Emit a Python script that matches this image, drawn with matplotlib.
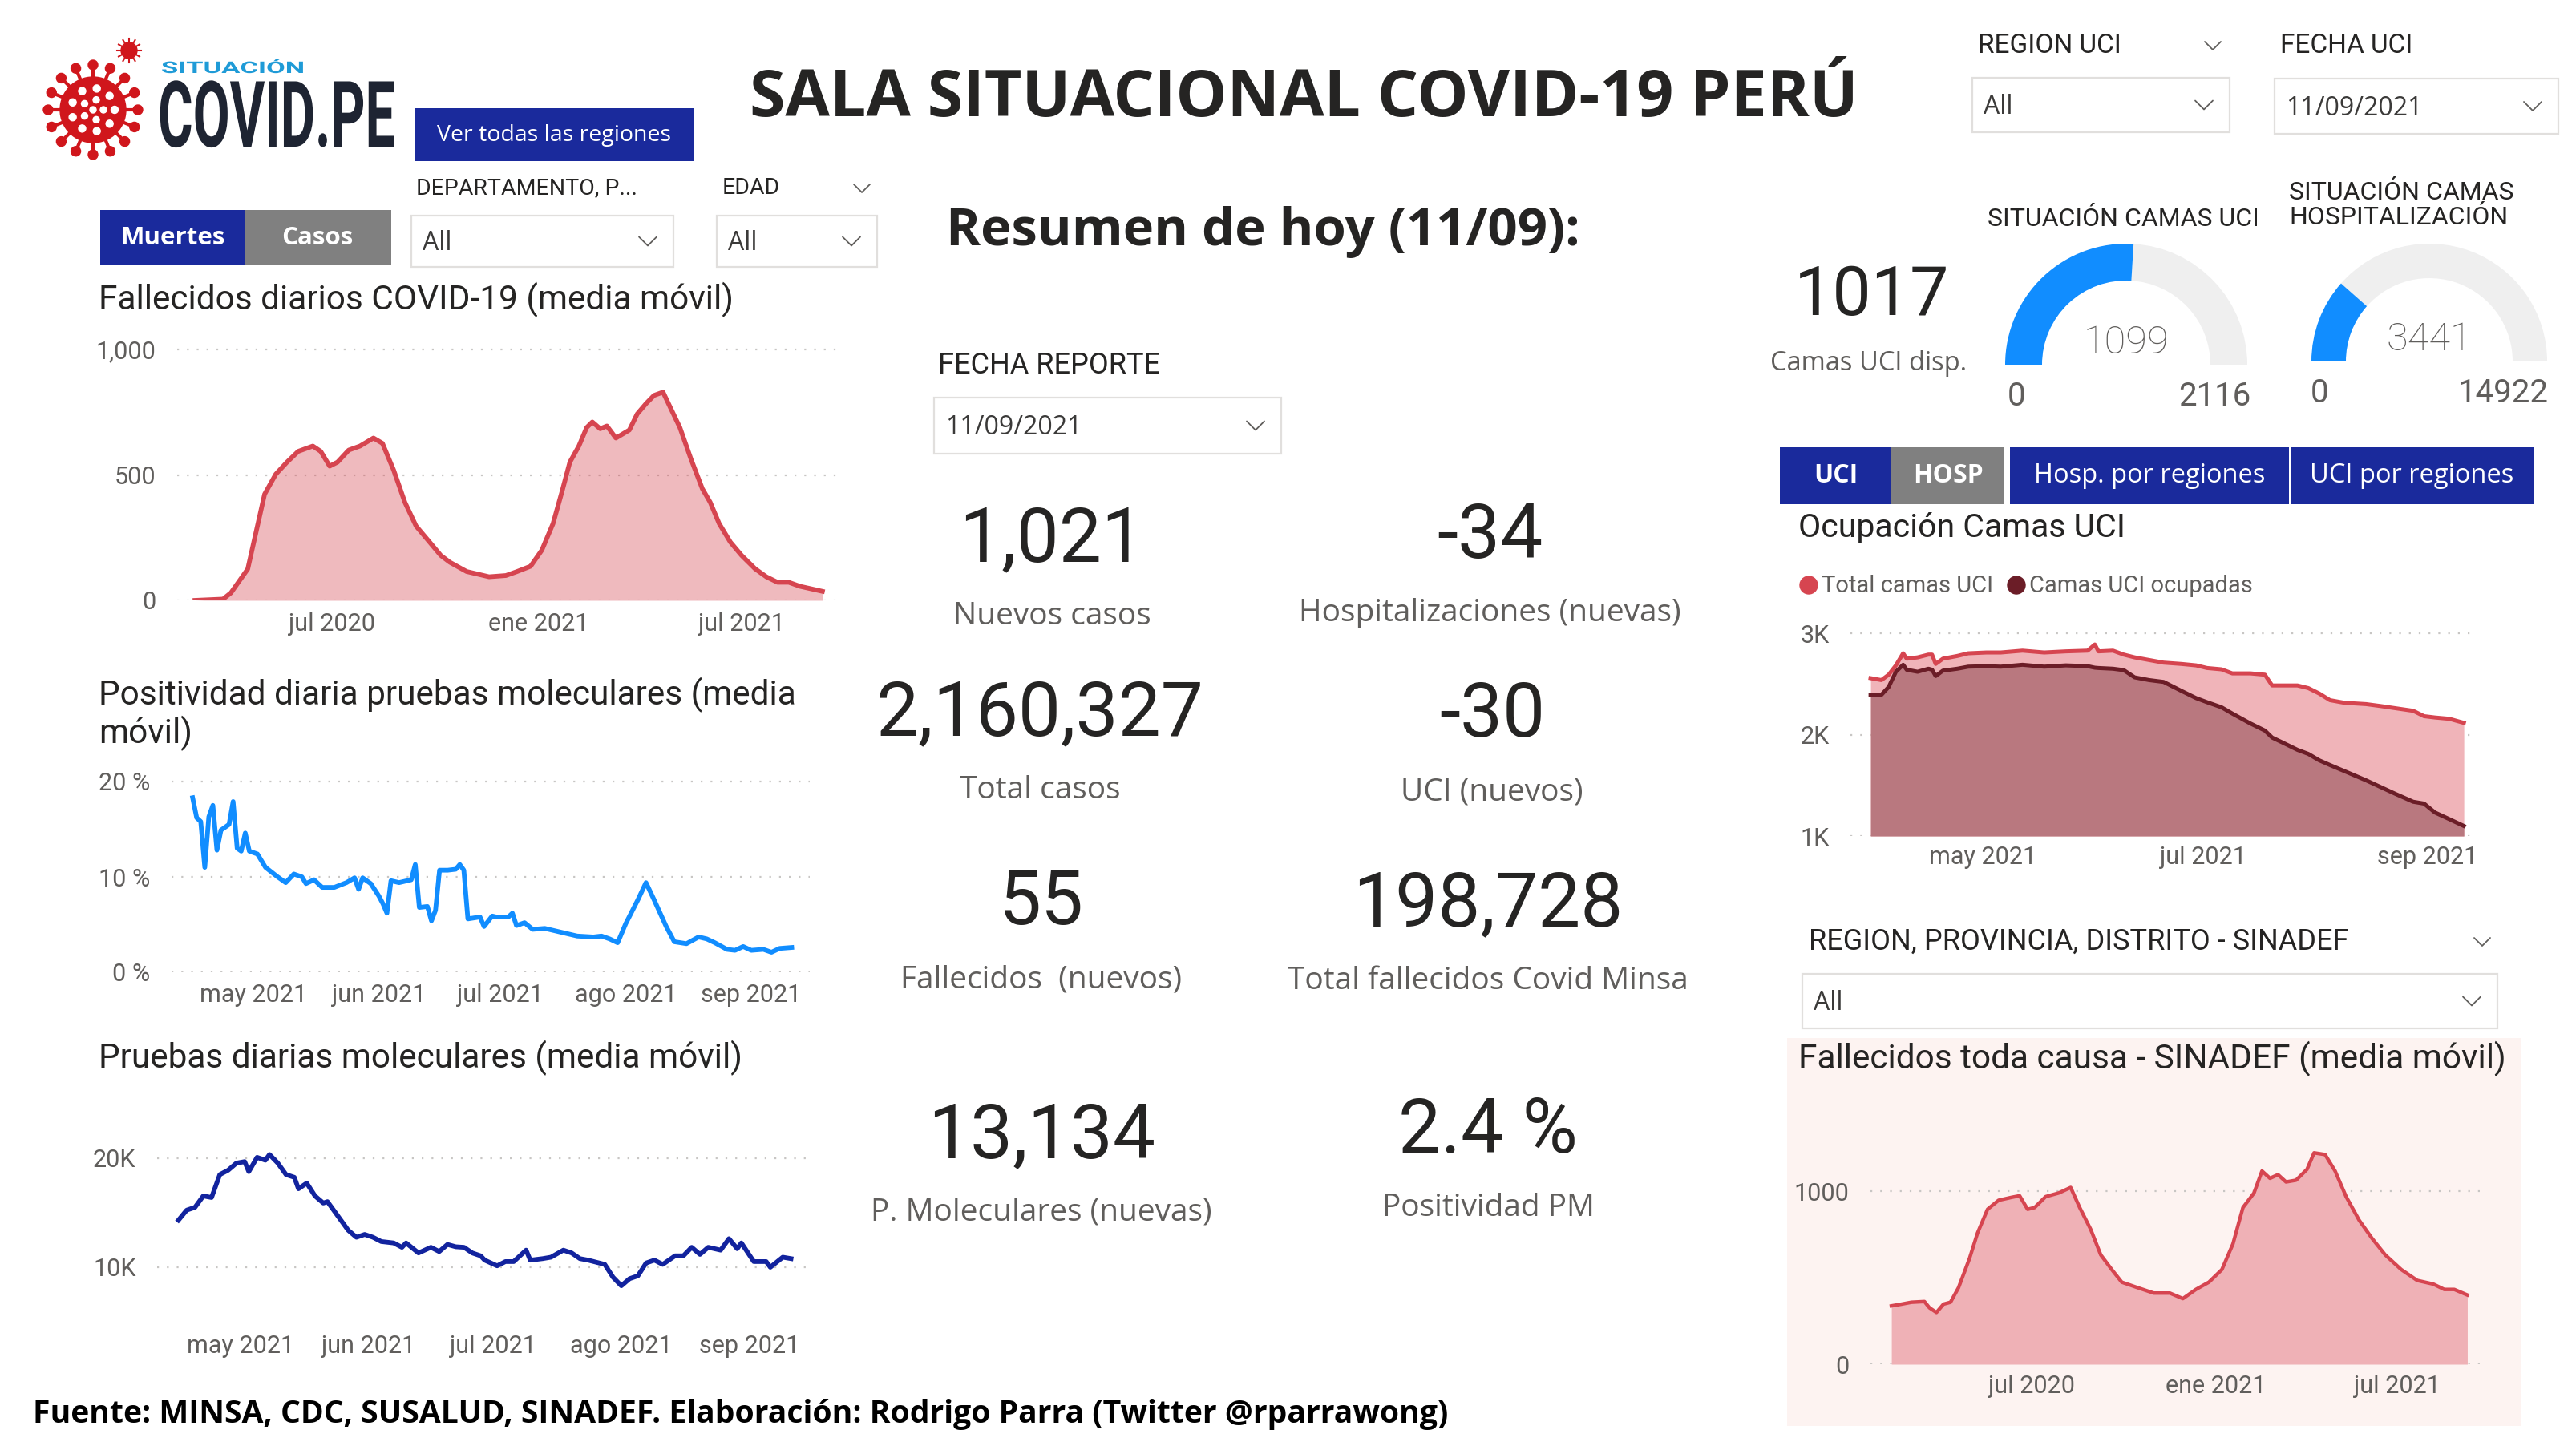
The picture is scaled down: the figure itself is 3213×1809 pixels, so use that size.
import numpy as np
import pandas as pd
import matplotlib
matplotlib.use('Agg')
import matplotlib.pyplot as plt
import matplotlib.dates as mdates
from matplotlib.patches import Rectangle, Circle, Wedge
from matplotlib.patheffects import AbstractPathEffect
from matplotlib.transforms import Affine2D
from matplotlib.ticker import FixedLocator

plt.rcParams['font.family'] = ['Roboto', 'DejaVu Sans']
SEGOE = ['Open Sans', 'DejaVu Sans']

# ---- Data ----
fallecidos_fechas = ['2020-03-01', '2020-03-26', '2020-04-02', '2020-04-17', '2020-05-02', '2020-05-12',
                     '2020-05-22', '2020-06-01', '2020-06-14', '2020-06-21', '2020-06-29', '2020-07-06',
                     '2020-07-16', '2020-07-26', '2020-08-07', '2020-08-15', '2020-08-25', '2020-09-04',
                     '2020-09-14', '2020-09-24', '2020-10-06', '2020-10-14', '2020-10-29', '2020-11-18',
                     '2020-12-03', '2020-12-13', '2020-12-25', '2021-01-04', '2021-01-14', '2021-01-22',
                     '2021-01-29', '2021-02-06', '2021-02-13', '2021-02-18', '2021-02-25', '2021-03-03',
                     '2021-03-11', '2021-03-23', '2021-03-30', '2021-04-07', '2021-04-14', '2021-04-22',
                     '2021-04-29', '2021-05-07', '2021-05-17', '2021-05-27', '2021-06-03', '2021-06-11',
                     '2021-06-21', '2021-07-01', '2021-07-13', '2021-07-23', '2021-08-02', '2021-08-12',
                     '2021-08-22', '2021-09-01', '2021-09-11']
fallecidos_media = [0, 5, 30, 125, 423, 503, 551, 594, 615, 594, 535, 551, 599, 615, 647, 626, 519, 391,
                    296, 243, 179, 152, 115, 94, 99, 115, 136, 200, 306, 434, 551, 615, 689, 711, 684, 695,
                    647, 679, 743, 785, 817, 830, 764, 689, 562, 445, 391, 306, 232, 179, 126, 94, 72, 72,
                    56, 46, 36]

positividad_fechas = ['2021-04-16', '2021-04-17', '2021-04-18', '2021-04-19', '2021-04-20', '2021-04-21',
                      '2021-04-22', '2021-04-23', '2021-04-25', '2021-04-26', '2021-04-27', '2021-04-28',
                      '2021-04-29', '2021-04-30', '2021-05-02', '2021-05-04', '2021-05-07', '2021-05-09',
                      '2021-05-11', '2021-05-13', '2021-05-14', '2021-05-16', '2021-05-18', '2021-05-21',
                      '2021-05-24', '2021-05-26', '2021-05-27', '2021-05-28', '2021-05-30', '2021-06-01',
                      '2021-06-02', '2021-06-03', '2021-06-04', '2021-06-06', '2021-06-09', '2021-06-10',
                      '2021-06-11', '2021-06-13', '2021-06-14', '2021-06-15', '2021-06-16', '2021-06-18',
                      '2021-06-20', '2021-06-21', '2021-06-22', '2021-06-23', '2021-06-26', '2021-06-27',
                      '2021-06-29', '2021-06-30', '2021-07-03', '2021-07-04', '2021-07-05', '2021-07-07',
                      '2021-07-09', '2021-07-12', '2021-07-16', '2021-07-20', '2021-07-24', '2021-07-26',
                      '2021-07-28', '2021-07-30', '2021-08-01', '2021-08-04', '2021-08-06', '2021-08-08',
                      '2021-08-11', '2021-08-13', '2021-08-16', '2021-08-19', '2021-08-21', '2021-08-23',
                      '2021-08-26', '2021-08-28', '2021-08-30', '2021-09-01', '2021-09-04', '2021-09-06',
                      '2021-09-08', '2021-09-11']
positividad_pct = [18.3, 16.2, 15.8, 11.0, 16.3, 17.5, 12.8, 14.9, 15.5, 17.9,
                   13.0, 12.7, 14.6, 12.7, 12.4, 11.0, 10.0, 9.4, 10.3, 10.0,
                   9.3, 9.7, 8.9, 8.9, 9.4, 9.9, 8.7, 9.9, 9.3, 8.0,
                   7.2, 6.2, 9.6, 9.4, 9.7, 11.3, 6.8, 6.9, 5.4, 6.5,
                   10.7, 10.7, 10.8, 11.3, 10.7, 5.6, 5.8, 4.8, 5.9, 5.8,
                   5.8, 6.2, 4.9, 5.2, 4.5, 4.6, 4.2, 3.8, 3.7, 3.8,
                   3.5, 3.1, 5.1, 7.6, 9.4, 7.6, 4.8, 3.2, 3.0, 3.7,
                   3.5, 3.1, 2.4, 2.3, 2.7, 2.3, 2.4, 2.1, 2.5, 2.6]

pruebas_fechas = ['2021-04-16', '2021-04-18', '2021-04-20', '2021-04-22', '2021-04-24', '2021-04-26',
                  '2021-04-28', '2021-04-30', '2021-05-02', '2021-05-03', '2021-05-05', '2021-05-07',
                  '2021-05-08', '2021-05-10', '2021-05-12', '2021-05-14', '2021-05-15', '2021-05-17',
                  '2021-05-19', '2021-05-21', '2021-05-22', '2021-05-25', '2021-05-27', '2021-05-29',
                  '2021-05-31', '2021-06-02', '2021-06-04', '2021-06-07', '2021-06-09', '2021-06-10',
                  '2021-06-13', '2021-06-16', '2021-06-18', '2021-06-20', '2021-06-22', '2021-06-24',
                  '2021-06-26', '2021-06-28', '2021-06-29', '2021-07-02', '2021-07-04', '2021-07-06',
                  '2021-07-09', '2021-07-10', '2021-07-13', '2021-07-15', '2021-07-18', '2021-07-20',
                  '2021-07-22', '2021-07-24', '2021-07-28', '2021-07-30', '2021-08-01', '2021-08-03',
                  '2021-08-05', '2021-08-07', '2021-08-09', '2021-08-11', '2021-08-14', '2021-08-16',
                  '2021-08-18', '2021-08-20', '2021-08-22', '2021-08-25', '2021-08-27', '2021-08-29',
                  '2021-08-30', '2021-09-02', '2021-09-05', '2021-09-06', '2021-09-09', '2021-09-11']
pruebas_media = [14320, 15240, 15500, 16540, 16400, 18500, 18900, 19550, 19690, 18770,
                 20080, 19820, 20340, 19560, 18500, 18250, 17200, 17720, 16540, 15890,
                 16020, 14450, 13400, 12750, 13010, 12750, 12360, 12230, 11830, 12230,
                 11310, 11830, 11440, 12090, 11880, 11830, 11310, 11050, 10650, 10130,
                 10520, 10520, 11570, 10650, 10790, 10920, 11570, 11310, 10790, 10650,
                 10260, 9080, 8300, 8950, 9210, 10390, 10650, 10260, 11050, 11050,
                 11830, 11180, 11830, 11570, 12620, 11700, 12230, 10520, 10520, 10000,
                 10920, 10790]

uci_fechas = ['2021-03-31', '2021-04-03', '2021-04-05', '2021-04-07', '2021-04-09', '2021-04-10',
              '2021-04-13', '2021-04-16', '2021-04-17', '2021-04-18', '2021-04-20', '2021-04-24',
              '2021-04-27', '2021-05-02', '2021-05-06', '2021-05-12', '2021-05-18', '2021-05-24',
              '2021-05-30', '2021-06-01', '2021-06-02', '2021-06-06', '2021-06-09', '2021-06-12',
              '2021-06-16', '2021-06-20', '2021-06-25', '2021-06-29', '2021-07-02', '2021-07-06',
              '2021-07-09', '2021-07-14', '2021-07-18', '2021-07-20', '2021-07-23', '2021-07-27',
              '2021-07-30', '2021-08-02', '2021-08-05', '2021-08-09', '2021-08-15', '2021-08-19',
              '2021-08-23', '2021-08-28', '2021-08-31', '2021-09-03', '2021-09-07', '2021-09-11']
uci_total = [2557, 2538, 2591, 2683, 2802, 2749, 2762, 2789, 2789, 2697,
             2749, 2776, 2802, 2810, 2810, 2828, 2810, 2821, 2828, 2889,
             2821, 2828, 2789, 2762, 2736, 2710, 2697, 2683, 2657, 2644,
             2604, 2604, 2591, 2485, 2485, 2485, 2459, 2406, 2340, 2314,
             2301, 2282, 2261, 2235, 2182, 2169, 2156, 2116]
uci_ocupadas = [2393, 2393, 2470, 2620, 2689, 2640, 2620, 2650, 2640, 2578,
                2631, 2650, 2670, 2675, 2670, 2689, 2670, 2683, 2675, 2660,
                2657, 2650, 2636, 2565, 2538, 2520, 2430, 2360, 2320, 2270,
                2208, 2110, 2040, 1971, 1920, 1850, 1810, 1747, 1700, 1640,
                1549, 1483, 1417, 1338, 1320, 1232, 1166, 1099]

sinadef_fechas = ['2020-02-12', '2020-02-22', '2020-03-03', '2020-03-16', '2020-03-21', '2020-03-28',
                  '2020-04-04', '2020-04-11', '2020-04-19', '2020-04-30', '2020-05-08', '2020-05-18',
                  '2020-05-29', '2020-06-11', '2020-06-19', '2020-06-27', '2020-07-04', '2020-07-15',
                  '2020-07-28', '2020-08-09', '2020-08-18', '2020-08-29', '2020-09-08', '2020-09-19',
                  '2020-09-29', '2020-10-15', '2020-10-31', '2020-11-16', '2020-11-29', '2020-12-12',
                  '2020-12-25', '2021-01-07', '2021-01-18', '2021-01-28', '2021-02-08', '2021-02-16',
                  '2021-02-24', '2021-03-04', '2021-03-12', '2021-03-22', '2021-04-02', '2021-04-09',
                  '2021-04-20', '2021-04-30', '2021-05-11', '2021-05-24', '2021-06-06', '2021-06-19',
                  '2021-07-05', '2021-07-21', '2021-08-06', '2021-08-17', '2021-08-27', '2021-09-09']
sinadef_media = [337, 347, 358, 362, 326, 299, 347, 358, 442, 611,
                 758, 895, 947, 964, 973, 895, 905, 968, 989, 1021,
                 905, 779, 632, 547, 474, 442, 411, 411, 379, 432, 474,
                 547, 695, 905, 989, 1116, 1074, 1095, 1053, 1063,
                 1126, 1221, 1211, 1116, 968, 832, 726, 632, 547, 484,
                 463, 432, 432, 400]

kpi_valores = ['1,021', '-34', '2,160,327', '-30', '55', '198,728', '13,134', '2.4 %']
kpi_etiquetas = ['Nuevos casos', 'Hospitalizaciones (nuevas)', 'Total casos', 'UCI (nuevos)',
                 'Fallecidos  (nuevos)', 'Total fallecidos Covid Minsa', 'P. Moleculares (nuevas)',
                 'Positividad PM']
camas_uci = [1099, 2116]          # ocupadas, total
camas_hosp = [3441, 14922]
camas_uci_disp = 1017

fechas_2020 = ['2020-07-01', '2021-01-01', '2021-07-01']
etiquetas_2020 = ['jul 2020', 'ene 2021', 'jul 2021']
fechas_2021 = ['2021-05-01', '2021-06-01', '2021-07-01', '2021-08-01', '2021-09-01']
etiquetas_2021 = ['may 2021', 'jun 2021', 'jul 2021', 'ago 2021', 'sep 2021']

# ---- Colours ----
AZUL_BTN = '#1a2a9c'
GRIS_BTN = '#808080'
ROJO = '#d64550'
TXT = '#252423'
TXT2 = '#605e5c'
W, H = 3213, 1809
TICK_FS = 22
TITLE_FS = 30.5


class Stretch(AbstractPathEffect):
    """scale glyphs around the text origin (for the condensed logo)"""
    def __init__(self, sx=1.0, sy=1.0):
        super().__init__()
        self.sx, self.sy = sx, sy

    def draw_path(self, renderer, gc, tpath, affine, rgbFace=None):
        renderer.draw_path(gc, tpath, Affine2D().scale(self.sx, self.sy) + affine, rgbFace)


def dnum(lst):
    return mdates.date2num(pd.to_datetime(lst))


def lin(p, p0, v0, p1, v1):
    return v0 + (p - p0) * (v1 - v0) / (p1 - p0)


fig = plt.figure(figsize=(W / 100, H / 100), dpi=100)
fig.patch.set_facecolor('white')
bg = fig.add_axes([0, 0, 1, 1])
bg.set_xlim(0, W)
bg.set_ylim(0, H)
bg.axis('off')


def T(x, y, s, **kw):
    kw.setdefault('color', TXT)
    return bg.text(x, H - y, s, **kw)


def rect(x0, y0, x1, y1, fc, ec='none', lw=0):
    bg.add_patch(Rectangle((x0, H - y1), x1 - x0, y1 - y0, facecolor=fc, edgecolor=ec, linewidth=lw))


def chevron(cx, cy, w=20, h=10):
    bg.plot([cx - w / 2, cx, cx + w / 2], [H - cy + h / 2, H - cy - h / 2, H - cy + h / 2],
            color=TXT2, lw=1.3, solid_capstyle='round')


def slicer(x0, y0, x1, y1, s):
    rect(x0, y0, x1, y1, 'white', '#e1dfdd', 1.6)
    T(x0 + 14, (y0 + y1) / 2 + 3, s, family=SEGOE, fontsize=23, color='#3b3a39', va='center')
    chevron(x1 - 32, (y0 + y1) / 2, 22, 11)


def chart(box, xref, yref, xticks, xlabels, yticks, ylabels, xpad=9):
    x0, y0, x1, y1 = box
    ax = fig.add_axes([x0 / W, 1 - y1 / H, (x1 - x0) / W, (y1 - y0) / H])
    ax.set_facecolor('none')
    (pa, da), (pb, db) = xref
    da, db = dnum([da, db])
    ax.set_xlim(lin(x0, pa, da, pb, db), lin(x1, pa, da, pb, db))
    (qa, va), (qb, vb) = yref
    ax.set_ylim(lin(y1, qa, va, qb, vb), lin(y0, qa, va, qb, vb))
    for s in ax.spines.values():
        s.set_visible(False)
    ax.xaxis.set_major_locator(FixedLocator(dnum(xticks)))
    ax.set_xticklabels(xlabels)
    ax.set_yticks(yticks)
    ax.set_yticklabels(ylabels)
    ax.tick_params(axis='both', length=0, labelsize=TICK_FS, labelcolor=TXT2)
    ax.tick_params(axis='y', pad=19)
    ax.tick_params(axis='x', pad=xpad)
    ax.yaxis.grid(True, color='#c8c6c4', linestyle=(0, (1, 4.5)), lw=1.6)
    ax.set_axisbelow(True)
    return ax


# ============================================================
# Header / logo
# ============================================================
vx, vy = 116, 137
for a in np.linspace(0, 2 * np.pi, 16, endpoint=False):
    bg.plot([vx + 36 * np.cos(a), vx + 54 * np.cos(a)], [H - vy + 36 * np.sin(a), H - vy + 54 * np.sin(a)],
            color='#d0161c', lw=3)
    bg.add_patch(Circle((vx + 56 * np.cos(a), H - vy + 56 * np.sin(a)), 6, color='#d0161c'))
bg.add_patch(Circle((vx, H - vy), 41, color='#d0161c'))
for r, n, rs in [(27, 9, 4.5), (13, 5, 4), (0, 1, 4)]:
    for a in np.linspace(0, 2 * np.pi, n, endpoint=False):
        bg.add_patch(Circle((vx + r * np.cos(a), H - vy + r * np.sin(a)), rs, color='white'))
sx, sy = 161, 63
for a in np.linspace(0, 2 * np.pi, 12, endpoint=False):
    bg.plot([sx + 8 * np.cos(a), sx + 15 * np.cos(a)], [H - sy + 8 * np.sin(a), H - sy + 15 * np.sin(a)],
            color='#d0161c', lw=1.5)
bg.add_patch(Circle((sx, H - sy), 10, color='#d0161c'))

T(201, 91, 'SITUACIÓN', fontsize=16, fontweight='bold', color='#1f9bd7', va='baseline',
  path_effects=[Stretch(1.55, 0.9)])
T(197, 183, 'COVID.PE', fontsize=48, fontweight='bold', color='#1e2432', va='baseline',
  path_effects=[Stretch(1.0, 1.72)])

rect(518, 135, 865, 201, AZUL_BTN)
T(691, 169, 'Ver todas las regiones', family=SEGOE, fontsize=20.5, color='white', ha='center', va='center')

T(1626, 124, 'SALA SITUACIONAL COVID-19 PERÚ', family=SEGOE, fontsize=58, fontweight='bold',
  ha='center', va='center')

T(519, 235, 'DEPARTAMENTO, P...', fontsize=20.5, va='center')
T(901, 235, 'EDAD', fontsize=20.5, va='center')
chevron(1075, 235)
slicer(513, 269, 840, 333, 'All')
slicer(894, 269, 1094, 333, 'All')

rect(125, 262, 305, 331, AZUL_BTN)
rect(305, 262, 488, 331, GRIS_BTN)
T(215, 297, 'Muertes', family=SEGOE, fontsize=22.5, fontweight='bold', color='white', ha='center', va='center')
T(396, 297, 'Casos', family=SEGOE, fontsize=22.5, fontweight='bold', color='white', ha='center', va='center')

# ============================================================
# Left column charts
# ============================================================
T(123, 374, 'Fallecidos diarios COVID-19 (media móvil)', fontsize=TITLE_FS, va='center')
ax1 = chart((221, 420, 1049, 749), ((414, '2020-07-01'), (925, '2021-07-01')), ((749, 0), (436, 1000)),
            fechas_2020, etiquetas_2020, [0, 500, 1000], ['0', '500', '1,000'], xpad=11)
x = dnum(fallecidos_fechas)
ax1.fill_between(x, 0, fallecidos_media, color=ROJO, alpha=0.37, lw=0)
ax1.plot(x, fallecidos_media, color=ROJO, lw=4.2, solid_joinstyle='round')

T(123, 891, 'Positividad diaria pruebas moleculares (media\nmóvil)', fontsize=TITLE_FS, va='center',
  linespacing=1.13)
ax2 = chart((214, 960, 1010, 1213), ((316, '2021-05-01'), (937, '2021-09-01')), ((1213, 0), (975, 20)),
            fechas_2021, etiquetas_2021, [0, 10, 20], ['0 %', '10 %', '20 %'], xpad=10)
ax2.plot(dnum(positividad_fechas), positividad_pct, color='#118dff', lw=4.2, solid_joinstyle='round')

T(123, 1320, 'Pruebas diarias moleculares (media móvil)', fontsize=TITLE_FS, va='center')
ax3 = chart((196, 1400, 1010, 1650), ((300, '2021-05-01'), (935, '2021-09-01')), ((1581, 10000), (1445, 20000)),
            fechas_2021, etiquetas_2021, [10000, 20000], ['10K', '20K'], xpad=11)
ax3.plot(dnum(pruebas_fechas), pruebas_media, color='#12239e', lw=4.2, solid_joinstyle='round')

# ============================================================
# Middle: resumen de hoy
# ============================================================
T(1180, 289, 'Resumen de hoy (11/09):', family=SEGOE, fontsize=47, fontweight='bold', va='center')
T(1170, 456, 'FECHA REPORTE', fontsize=26, va='center')
slicer(1165, 496, 1598, 566, '11/09/2021')

kpi_xy = [(1312, 674), (1858, 670), (1297, 891), (1861, 893), (1299, 1127), (1856, 1129),
          (1299, 1418), (1856, 1412)]
for (kx, ky), val, lab in zip(kpi_xy, kpi_valores, kpi_etiquetas):
    T(kx, ky, val, fontsize=68, ha='center', va='center')
    T(kx, ky + 95, lab, family=SEGOE, fontsize=28, color=TXT2, ha='center', va='center')

# ============================================================
# Right column
# ============================================================
T(2467, 57, 'REGION UCI', fontsize=24, va='center')
chevron(2760, 57)
slicer(2460, 97, 2781, 165, 'All')
T(2844, 57, 'FECHA UCI', fontsize=24, va='center')
slicer(2837, 98, 3191, 167, '11/09/2021')

T(2335, 369, str(camas_uci_disp), fontsize=62, ha='center', va='center')
T(2331, 453, 'Camas UCI disp.', family=SEGOE, fontsize=23.5, color=TXT2, ha='center', va='center')

T(2648, 273, 'SITUACIÓN CAMAS UCI', fontsize=23, ha='center', va='center')
T(2855, 256, 'SITUACIÓN CAMAS\nHOSPITALIZACIÓN', fontsize=23, va='center', linespacing=1.12)

for (cx, cy, ro, wd), (used, tot), lx in [((2652, 455, 151, 46), camas_uci, (2515, 2762)),
                                          ((3030, 451, 147, 43), camas_hosp, (2893, 3122))]:
    ang = 180 - 180 * used / tot
    bg.add_patch(Wedge((cx, H - cy), ro, 0, ang, width=wd, facecolor='#efefef', edgecolor='none'))
    bg.add_patch(Wedge((cx, H - cy), ro, ang, 180, width=wd, facecolor='#118dff', edgecolor='none'))
    T(cx, cy - 27, str(used), fontsize=35, fontweight='light', color=TXT2, ha='center', va='center')
    T(lx[0], cy + 40, '0', fontsize=29, color=TXT2, ha='center', va='center')
    T(lx[1], cy + 40, str(tot), fontsize=29, color=TXT2, ha='center', va='center')

tabs = [(2220, 2359, AZUL_BTN, 'UCI', 'bold'), (2359, 2500, GRIS_BTN, 'HOSP', 'bold'),
        (2507, 2855, AZUL_BTN, 'Hosp. por regiones', 'normal'),
        (2857, 3160, AZUL_BTN, 'UCI por regiones', 'normal')]
for tx0, tx1, col, lab, wt in tabs:
    rect(tx0, 558, tx1, 629, col)
    T((tx0 + tx1) / 2, 594, lab, family=SEGOE, fontsize=23 if wt == 'bold' else 23.5, fontweight=wt,
      color='white', ha='center', va='center')

T(2243, 658, 'Ocupación Camas UCI', fontsize=29.5, va='center')
bg.add_patch(Circle((2256, H - 730), 11, color=ROJO))
T(2272, 731, 'Total camas UCI', fontsize=21, color=TXT2, va='center')
bg.add_patch(Circle((2515, H - 730), 11, color='#6b1d27'))
T(2531, 731, 'Camas UCI ocupadas', fontsize=21, color=TXT2, va='center')

ax4 = chart((2308, 775, 3089, 1043), ((2473, '2021-05-01'), (3028, '2021-09-01')), ((1043, 1000), (790, 3000)),
            ['2021-05-01', '2021-07-01', '2021-09-01'], ['may 2021', 'jul 2021', 'sep 2021'],
            [1000, 2000, 3000], ['1K', '2K', '3K'], xpad=9)
x = dnum(uci_fechas)
ax4.fill_between(x, 1000, uci_total, color='#f0b4b9', lw=0)
ax4.fill_between(x, 1000, uci_ocupadas, color='#b9787f', lw=0)
ax4.plot(x, uci_total, color=ROJO, lw=3.6, solid_joinstyle='round')
ax4.plot(x, uci_ocupadas, color='#6b1d27', lw=3.6, solid_joinstyle='round')

T(2256, 1175, 'REGION, PROVINCIA, DISTRITO - SINADEF', fontsize=26, va='center')
chevron(3096, 1175)
slicer(2248, 1215, 3115, 1283, 'All')

rect(2229, 1295, 3145, 1779, '#fdf3f1')
T(2243, 1321, 'Fallecidos toda causa - SINADEF (media móvil)', fontsize=TITLE_FS, va='center')
ax5 = chart((2333, 1400, 3099, 1702), ((2534, '2020-07-01'), (2990, '2021-07-01')), ((1702, 0), (1486, 1000)),
            fechas_2020, etiquetas_2020, [0, 1000], ['0', '1000'], xpad=9)
x = dnum(sinadef_fechas)
ax5.fill_between(x, 0, sinadef_media, color='#efb1b6', lw=0)
ax5.plot(x, sinadef_media, color=ROJO, lw=3.2, solid_joinstyle='round')

# ============================================================
# Footer
# ============================================================
T(41, 1764, 'Fuente: MINSA, CDC, SUSALUD, SINADEF. Elaboración: Rodrigo Parra (Twitter @rparrawong)',
  family=SEGOE, fontsize=28.2, fontweight='bold', color='black', va='center')

fig.savefig('out.png', dpi=100, facecolor='white')
